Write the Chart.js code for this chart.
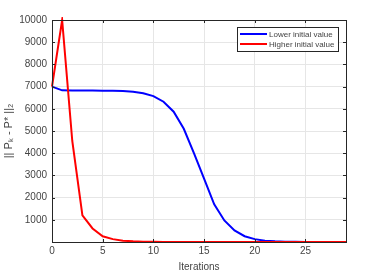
<!DOCTYPE html>
<html>
<head>
  <script src="https://cdn.jsdelivr.net/npm/chart.js"></script>
  <style>
    html, body { margin: 0; padding: 0; background: #fff; }
    #wrap { width: 382px; height: 273px; }
  </style>
</head>
<body>
<div id="wrap"><canvas id="normChart"></canvas></div>
<script>
const iterations = Array.from({length: 30}, (_, i) => i);
const lowerInit = [7000, 6830, 6820, 6820, 6820, 6815, 6810, 6800, 6770, 6700,
                   6570, 6320, 5870, 5100, 4000, 2850, 1700, 970, 520, 260,
                   130, 60, 30, 15, 8, 4, 2, 1, 0, 0];
const higherInit = [7000, 10000, 4550, 1200, 610, 260, 130, 60, 30, 15,
                    8, 4, 2, 1, 0, 0, 0, 0, 0, 0,
                    0, 0, 0, 0, 0, 0, 0, 0, 0, 0];
const xTicks = [0, 5, 10, 15, 20, 25];
const yTicks = [0, 1000, 2000, 3000, 4000, 5000, 6000, 7000, 8000, 9000, 10000];

const axisColor = '#262626';
const textColor = '#444444';
const gridColor = '#e6e6e6';
const font = { family: 'Liberation Sans, Arial, sans-serif', size: 10 };

// box, inward ticks and legend, the MATLAB way
const boxPlugin = {
  id: 'boxPlugin',
  afterDraw(chart) {
    const { ctx, chartArea: a, scales } = chart;
    ctx.save();
    ctx.strokeStyle = axisColor;
    ctx.lineWidth = 1;
    ctx.strokeRect(a.left + 0.5, a.top + 0.5, a.right - a.left, a.bottom - a.top);
    ctx.beginPath();
    xTicks.forEach(v => {
      const x = Math.round(scales.x.getPixelForValue(v)) + 0.5;
      ctx.moveTo(x, a.bottom); ctx.lineTo(x, a.bottom - 3);
      ctx.moveTo(x, a.top); ctx.lineTo(x, a.top + 3);
    });
    yTicks.forEach(v => {
      const y = Math.round(scales.y.getPixelForValue(v)) + 0.5;
      ctx.moveTo(a.left, y); ctx.lineTo(a.left + 3, y);
      ctx.moveTo(a.right, y); ctx.lineTo(a.right - 3, y);
    });
    ctx.stroke();

    // legend box
    const bx = 237, by = 27, bw = 101, bh = 24;
    ctx.fillStyle = '#fff';
    ctx.fillRect(bx, by, bw, bh);
    ctx.strokeStyle = '#262626';
    ctx.strokeRect(bx + 0.5, by + 0.5, bw, bh);
    ctx.font = '8px Liberation Sans, Arial, sans-serif';
    ctx.textBaseline = 'middle';
    chart.data.datasets.forEach((ds, i) => {
      const y = by + 7 + i * 10;
      ctx.strokeStyle = ds.borderColor;
      ctx.lineWidth = 2;
      ctx.beginPath();
      ctx.moveTo(bx + 3, y); ctx.lineTo(bx + 30, y);
      ctx.stroke();
      ctx.fillStyle = textColor;
      ctx.fillText(ds.label, bx + 32, y + 0.5);
    });
    ctx.restore();
  }
};

new Chart(document.getElementById('normChart'), {
  type: 'line',
  data: {
    datasets: [{
      label: 'Lower initial value',
      data: iterations.map((k, i) => ({ x: k, y: lowerInit[i] })),
      borderColor: '#0000ff',
      borderWidth: 2,
      pointRadius: 0,
      tension: 0,
      clip: 3,
      order: 1
    }, {
      label: 'Higher initial value',
      data: iterations.map((k, i) => ({ x: k, y: higherInit[i] })),
      borderColor: '#ff0000',
      borderWidth: 2,
      pointRadius: 0,
      tension: 0,
      clip: 3,
      order: 0
    }]
  },
  options: {
    responsive: true,
    maintainAspectRatio: false,
    animation: false,
    layout: { padding: { top: 20, right: 36, left: 2, bottom: 0 } },
    plugins: {
      legend: { display: false },
      tooltip: { enabled: false }
    },
    scales: {
      x: {
        type: 'linear',
        min: 0,
        max: 29,
        afterBuildTicks: s => { s.ticks = xTicks.map(v => ({ value: v })); },
        afterFit: s => { s.height = 31; },
        ticks: { color: textColor, font: font, padding: 3, maxRotation: 0 },
        grid: { color: gridColor, drawTicks: false },
        border: { display: false },
        title: { display: true, text: 'Iterations', color: textColor, font: font, padding: { top: 1, bottom: 0 } }
      },
      y: {
        min: 0,
        max: 10000,
        afterBuildTicks: s => { s.ticks = yTicks.map(v => ({ value: v })); },
        afterFit: s => { s.width = 50; },
        ticks: {
          color: textColor, font: font, padding: 5,
          callback: v => v === 0 ? '' : v
        },
        grid: { color: gridColor, drawTicks: false },
        border: { display: false },
        title: { display: true, text: '|| Pₖ - P* ||₂', color: textColor, font: { family: font.family, size: 11 }, padding: { top: 0, bottom: 0 } }
      }
    }
  },
  plugins: [boxPlugin]
});
</script>
</body>
</html>
